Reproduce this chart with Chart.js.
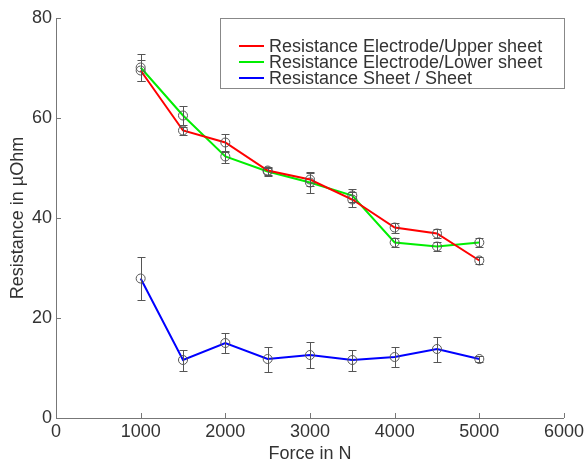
<!DOCTYPE html>
<html>
<head>
<meta charset="utf-8">
<script src="https://cdn.jsdelivr.net/npm/chart.js@4.4.0/dist/chart.umd.min.js"></script>
<style>
  html, body { margin: 0; padding: 0; background: #fff; }
</style>
</head>
<body>
<canvas id="chart" width="587" height="465"></canvas>
<script>
// force steps (N)
const forces = [1000, 1500, 2000, 2500, 3000, 3500, 4000, 4500, 5000];

// resistance in µOhm
const upperSheet = [69.5, 57.5, 55.1, 49.5, 47.7, 43.7, 38.1, 36.9, 31.5];
const upperErr   = [2.0, 0.8, 1.8, 0.8, 1.3, 1.5, 1.0, 0.9, 0.7];
const lowerSheet = [70.1, 60.5, 52.3, 49.3, 47.1, 44.5, 35.1, 34.3, 35.1];
const lowerErr   = [2.7, 1.9, 1.2, 0.8, 2.1, 1.3, 0.9, 0.9, 0.9];
const sheetSheet = [27.9, 11.6, 15.0, 11.8, 12.6, 11.6, 12.2, 13.8, 11.8];
const sheetErr   = [4.3, 2.1, 2.0, 2.5, 2.6, 2.1, 2.0, 2.5, 0.6];

const xTicks = [0, 1000, 2000, 3000, 4000, 5000, 6000];
const yTicks = [0, 20, 40, 60, 80];

const FONT = "'Liberation Sans', Arial, sans-serif";
const TEXT = "#333";
const AXIS = "#777";

function points(ys) {
  return forces.map((f, i) => ({ x: f, y: ys[i] }));
}

function series(label, ys, errs, color) {
  return {
    label: label,
    data: points(ys),
    errors: errs,
    borderColor: color,
    borderWidth: 2,
    pointRadius: 4.5,
    pointBorderWidth: 1,
    pointBorderColor: "#555",
    pointBackgroundColor: "rgba(0,0,0,0)",
    tension: 0,
  };
}

// vertical error bars with short caps
const errorBars = {
  id: "errorBars",
  afterDatasetsDraw(chart) {
    const { ctx, scales: { x, y } } = chart;
    ctx.save();
    ctx.strokeStyle = "#555";
    ctx.lineWidth = 1;
    chart.data.datasets.forEach((ds) => {
      ds.data.forEach((p, i) => {
        const e = ds.errors[i];
        const px = Math.round(x.getPixelForValue(p.x)) + 0.5;
        const top = Math.round(y.getPixelForValue(p.y + e)) + 0.5;
        const bot = Math.round(y.getPixelForValue(p.y - e)) + 0.5;
        ctx.beginPath();
        ctx.moveTo(px, top); ctx.lineTo(px, bot);
        ctx.moveTo(px - 4, top); ctx.lineTo(px + 4, top);
        ctx.moveTo(px - 4, bot); ctx.lineTo(px + 4, bot);
        ctx.stroke();
      });
    });
    ctx.restore();
  },
};

// small tick marks pointing into the plot
const innerTicks = {
  id: "innerTicks",
  afterDraw(chart) {
    const { ctx, chartArea: a, scales: { x, y } } = chart;
    ctx.save();
    ctx.strokeStyle = AXIS;
    ctx.lineWidth = 1;
    ctx.beginPath();
    xTicks.forEach((v) => {
      const px = Math.round(x.getPixelForValue(v)) + 0.5;
      ctx.moveTo(px, a.bottom); ctx.lineTo(px, a.bottom - 5);
    });
    yTicks.forEach((v) => {
      const py = Math.round(y.getPixelForValue(v)) + 0.5;
      ctx.moveTo(a.left, py); ctx.lineTo(a.left + 5, py);
    });
    ctx.stroke();
    ctx.restore();
  },
};

// boxed legend in the upper right of the plot
const boxLegend = {
  id: "boxLegend",
  afterDraw(chart) {
    const { ctx, chartArea: a } = chart;
    const left = 220.5, right = 564.5, top = a.top + 0.5, bottom = 88.5;
    ctx.save();
    ctx.fillStyle = "#fff";
    ctx.fillRect(left, top, right - left, bottom - top);
    ctx.strokeStyle = "#888";
    ctx.lineWidth = 1;
    ctx.strokeRect(left, top, right - left, bottom - top);
    ctx.font = "18px " + FONT;
    ctx.textBaseline = "middle";
    chart.data.datasets.forEach((ds, i) => {
      const cy = 46 + i * 16;
      ctx.strokeStyle = ds.borderColor;
      ctx.lineWidth = 2;
      ctx.beginPath();
      ctx.moveTo(239, cy); ctx.lineTo(264, cy);
      ctx.stroke();
      ctx.fillStyle = TEXT;
      ctx.fillText(ds.label, 269, cy + 1);
    });
    ctx.restore();
  },
};

new Chart(document.getElementById("chart"), {
  type: "line",
  data: {
    datasets: [
      series("Resistance Electrode/Upper sheet", upperSheet, upperErr, "#ff0000"),
      series("Resistance Electrode/Lower sheet", lowerSheet, lowerErr, "#00ee00"),
      series("Resistance Sheet / Sheet", sheetSheet, sheetErr, "#0000ff"),
    ],
  },
  options: {
    responsive: false,
    devicePixelRatio: 1,
    animation: false,
    layout: { padding: { top: 18, right: 23, left: 0, bottom: 0 } },
    plugins: { legend: { display: false }, tooltip: { enabled: false } },
    scales: {
      x: {
        type: "linear",
        min: 0,
        max: 6000,
        afterBuildTicks: (s) => { s.ticks = xTicks.map((v) => ({ value: v })); },
        afterFit: (s) => { s.height = 47; },
        grid: { display: false, drawTicks: false },
        border: { display: true, color: AXIS, width: 1 },
        ticks: { color: TEXT, font: { family: FONT, size: 18 }, padding: 3, maxRotation: 0,
                 callback: (v) => String(v) },
        title: { display: true, text: "Force in N", color: TEXT, font: { family: FONT, size: 18 }, padding: 0 },
      },
      y: {
        min: 0,
        max: 80,
        afterBuildTicks: (s) => { s.ticks = yTicks.map((v) => ({ value: v })); },
        afterFit: (s) => { s.width = 56; },
        grid: { display: false, drawTicks: false },
        border: { display: true, color: AXIS, width: 1 },
        ticks: { color: TEXT, font: { family: FONT, size: 18 }, padding: 4 },
        title: { display: true, text: "Resistance in \u00b5Ohm", color: TEXT, font: { family: FONT, size: 18 }, padding: 7 },
      },
    },
  },
  plugins: [errorBars, innerTicks, boxLegend],
});
</script>
</body>
</html>
